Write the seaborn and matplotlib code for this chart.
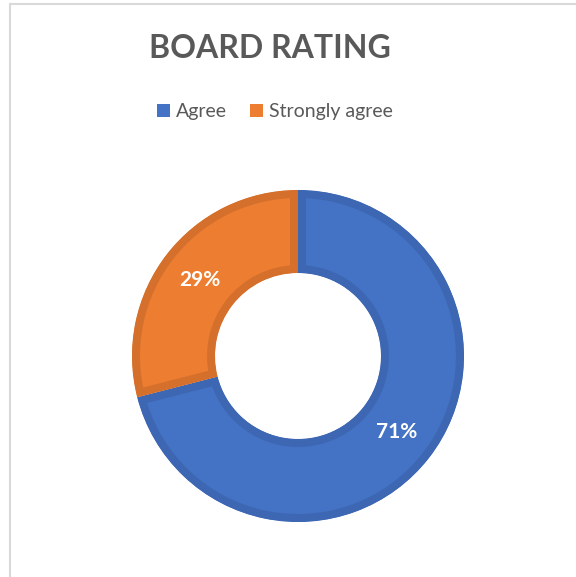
import matplotlib
matplotlib.use("Agg")
import matplotlib.pyplot as plt
from matplotlib.patches import Patch
from matplotlib.lines import Line2D
import seaborn as sns

sns.set_theme(style="white")
plt.rcParams['font.family'] = ['Lato', 'DejaVu Sans']

# data
categories = ['Agree', 'Strongly agree']
shares = [71, 29]
fill_colors = ['#4472C4', '#ED7D31']
edge_colors = ['#3D67B3', '#D5702C']
title = 'BOARD RATING'
grey = '#595959'

fig = plt.figure(figsize=(5.76, 5.77), dpi=100)
fig.patch.set_facecolor('white')

# light chart border (left and top)
fig.add_artist(Line2D([10/576, 10/576], [0, 1 - 4/577], color='#D9D9D9', lw=1.5))
fig.add_artist(Line2D([10/576, 1], [1 - 4/577, 1 - 4/577], color='#D9D9D9', lw=1.5))

# donut
ax = fig.add_axes([132/576, 55/577, 332/576, 332/577])
wedges, texts, autotexts = ax.pie(
    shares, colors=fill_colors, startangle=90, counterclock=False,
    radius=1, wedgeprops=dict(width=0.5, linewidth=11.5),
    autopct='%d%%', pctdistance=0.75,
    textprops=dict(color='white', fontsize=15, fontweight='bold'))
for w, ec in zip(wedges, edge_colors):
    w.set_edgecolor(ec)
    w.set_clip_on(True)
    w.set_clip_path(w)  # keep border inside the wedge, like Excel
ax.set_xlim(-1, 1)
ax.set_ylim(-1, 1)
ax.set_aspect('equal')
ax.axis('off')

fig.text(270/576, 1 - 48/577, title, ha='center', va='center',
         fontsize=23, fontweight='bold', color=grey)

handles = [Patch(facecolor=c, edgecolor='none') for c in fill_colors]
leg = fig.legend(handles, categories, ncol=2, loc='center',
                 bbox_to_anchor=(275/576, 1 - 112/577), frameon=False,
                 handlelength=0.65, handleheight=0.65, handletextpad=0.3,
                 columnspacing=1.2, fontsize=14)
for t in leg.get_texts():
    t.set_color(grey)

fig.savefig('out.png', dpi=100, facecolor='white')
